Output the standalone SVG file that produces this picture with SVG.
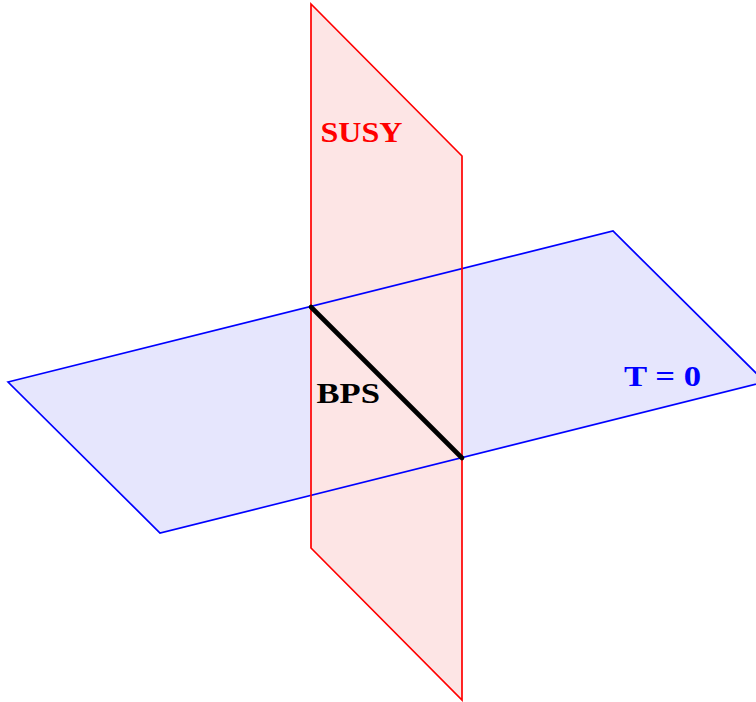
<svg xmlns="http://www.w3.org/2000/svg" width="756" height="702" viewBox="0 0 756 702">
<style>
.lbl{font-family:"Liberation Serif","DejaVu Serif",serif;font-weight:bold;font-size:29px}
.bluefill{fill:#e6e6fd;stroke:none}
.redfill{fill:#fde5e5;stroke:none}
.blueedge{fill:none;stroke:#0000ff;stroke-width:1.7;stroke-linejoin:miter}
.rededge{fill:none;stroke:#ff0000;stroke-width:1.7;stroke-linejoin:miter}
</style>
<rect width="756" height="702" fill="#ffffff"/>
<g id="fills">
<polygon class="bluefill" points="8,382 613,231 765,382 160,533"/>
<polygon class="redfill" points="311,4 462,156 462,700 311,548"/>
</g>
<g id="plane-T0">
<polygon class="blueedge" points="8,382 613,231 765,382 160,533"/>
<text class="lbl" x="624" y="385.5" fill="#0000ff" textLength="77" lengthAdjust="spacingAndGlyphs">T = 0</text>
</g>
<g id="plane-SUSY">
<polygon class="rededge" points="311,4 462,156 462,700 311,548"/>
<text class="lbl" x="320.5" y="142" fill="#ff0000" textLength="82" lengthAdjust="spacingAndGlyphs">SUSY</text>
</g>
<g id="connectors">
<line x1="311" y1="307" x2="462" y2="458" stroke="#000000" stroke-width="4.6" stroke-linecap="round"/>
</g>
<g id="BPS">
<text class="lbl" x="316.5" y="402.5" fill="#000000" textLength="63.5" lengthAdjust="spacingAndGlyphs">BPS</text>
</g>
</svg>
